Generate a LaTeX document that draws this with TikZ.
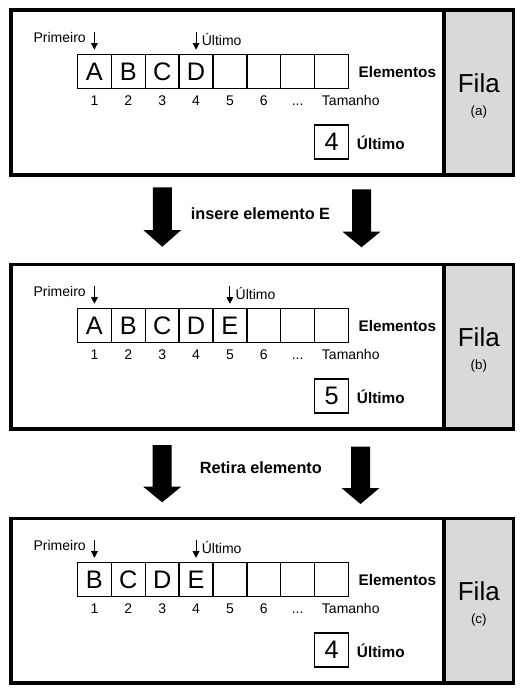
\documentclass[tikz,border=0pt]{standalone}
\usepackage{fontspec}
\setmainfont{Liberation Sans}
\usetikzlibrary{arrows.meta}
\definecolor{filagray}{RGB}{217,217,217}
\tikzset{
  panelline/.style={line width=2.8pt},
  cellbox/.style={draw, line width=1pt, minimum width=25.41pt, minimum height=25.5pt, inner sep=0pt, font=\fontsize{19}{19}\selectfont},
  valbox/.style={draw, line width=1.2pt, minimum size=25.5pt, inner sep=0pt, font=\fontsize{19}{19}\selectfont},
  numtext/.style={font=\fontsize{10.5}{12}\selectfont, inner sep=0pt},
  smalltext/.style={font=\fontsize{10.5}{12}\selectfont, inner sep=0pt},
  boldtext/.style={font=\fontsize{11.5}{13}\selectfont\bfseries, inner sep=0pt},
  midtext/.style={font=\fontsize{12.2}{14}\selectfont\bfseries, inner sep=0pt},
  filatext/.style={font=\fontsize{19.5}{20}\selectfont, inner sep=0pt},
  tagtext/.style={font=\fontsize{10}{12}\selectfont, inner sep=0pt},
  ptrarrow/.style={-{Triangle[length=5pt,width=5pt]}, line width=0.75pt},
  blockarrow/.style={fill=black},
}
\newcommand\filapanel[6]{%
 \begin{scope}[shift={(0,#1)}]
  \fill[filagray] (444,0) rectangle (513.5,164.4);
  \draw[panelline] (11,0) rectangle (513.5,164.4);
  \draw[panelline] (444,0) -- (444,164.4);
  \foreach \L [count=\i] in {#3} {
    \node[cellbox] (#2c\i) at ({77.5+(\i-0.5)*33.875},61.3) {\L};
  }
  \foreach \i in {1,...,6} {
    \node[numtext, anchor=base] (#2n\i) at ({77.5+(\i-0.5)*33.875},94.7) {\i};
  }
  \node[numtext, anchor=base] (#2dots) at ({77.5+6.5*33.875},94.7) {...};
  \node[numtext, anchor=base west] (#2size) at (321.7,94.7) {Tamanho};
  \node[boldtext, anchor=base west] (#2elem) at (358.3,67) {Elementos};
  \node[smalltext, anchor=base east] (#2first) at (86,32.4) {Primeiro};
  \coordinate (#2fa) at ({77.5+0.5*33.875},21.4);
  \draw[ptrarrow] (#2fa) -- ([yshift=3.2pt]#2c1.north);
  \coordinate (#2la) at ({77.5+(#4-0.5)*33.875},21.4);
  \draw[ptrarrow] (#2la) -- ([yshift=3.2pt]#2c#4.north);
  \node[smalltext, anchor=base west] (#2last) at ({77.5+(#4-0.5)*33.875+5.5},35.4) {Último};
  \node[valbox] (#2val) at (331.56,131.5) {#5};
  \node[boldtext, anchor=base west] (#2lastlbl) at (356.7,138.7) {Último};
  \node[filatext, anchor=base] (#2fila) at (478.8,82.4) {Fila};
  \node[tagtext] (#2tag) at (478.8,101.4) {(#6)};
 \end{scope}}
\newcommand\blockarr[5]{% cx, top, headstart, tip, name
  \coordinate (#5) at (#1,#4);
  \fill[blockarrow] ({#1-9.5},#2) -- ({#1+9.5},#2) -- ({#1+9.5},#3) -- ({#1+19},#3)
    -- (#5) -- ({#1-19},#3) -- ({#1-9.5},#3) -- cycle;}
\begin{document}
\begin{tikzpicture}[x=0.75pt,y=-0.75pt]
\useasboundingbox (0,0) rectangle (524,694);
\filapanel{10.3}{p1}{A,B,C,D,{},{},{},{}}{4}{4}{a}
\filapanel{264.4}{p2}{A,B,C,D,E,{},{},{}}{5}{5}{b}
\filapanel{518.5}{p3}{B,C,D,E,{},{},{},{}}{4}{4}{c}
\blockarr{162.3}{187.3}{230}{246.7}{a1l}
\blockarr{361.5}{189.3}{231.7}{247.3}{a1r}
\node[midtext] (ins) at (260.5,213.3) {insere elemento E};
\blockarr{162.2}{445}{486.7}{502.3}{a2l}
\blockarr{360.5}{446.7}{488}{504}{a2r}
\node[midtext] (ret) at (260.8,468) {Retira elemento};
\end{tikzpicture}
\end{document}
